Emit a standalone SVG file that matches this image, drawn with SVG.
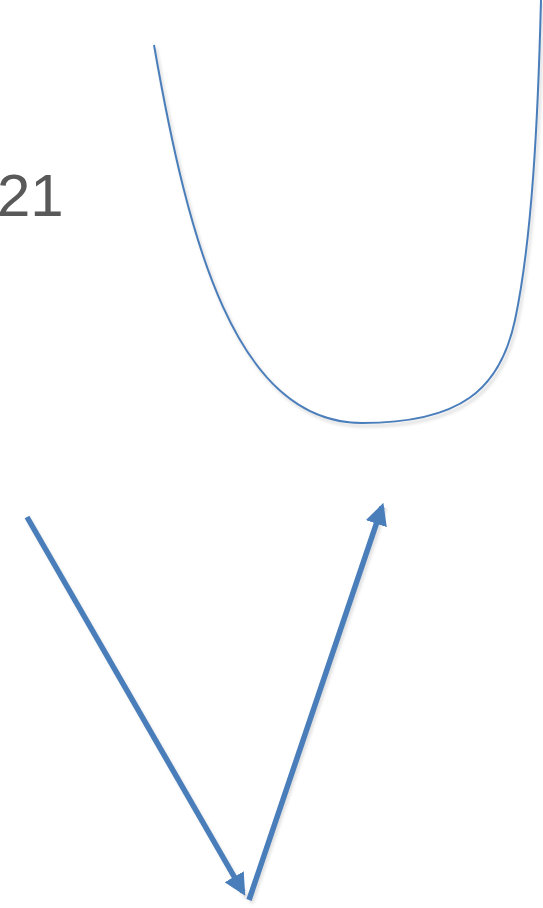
<svg xmlns="http://www.w3.org/2000/svg" width="543" height="908" viewBox="0 0 543 908">
<style>
.lbl{font-family:"Liberation Sans",Arial,sans-serif;font-size:60px;fill:#595959}
.curve{fill:none;stroke:#4a7ebb;stroke-width:2}
.shadow{fill:none;stroke:#000;stroke-opacity:0.12}
.arrow{fill:none;stroke:#4a7ebb;stroke-width:5.5}
</style>
<defs>
<marker id="ah" viewBox="0 0 10 10" refX="8" refY="5" markerWidth="4" markerHeight="4" orient="auto" markerUnits="strokeWidth">
<path d="M0,0 L10,5 L0,10 z" fill="#4a7ebb"/>
</marker>
<filter id="blur" x="-10%" y="-10%" width="120%" height="120%"><feGaussianBlur stdDeviation="1.5"/></filter>
</defs>
<rect width="543" height="908" fill="#fff"/>
<g id="label"><text class="lbl" x="-3" y="216">21</text></g>
<g id="curve">
<path class="shadow" stroke-width="3" filter="url(#blur)" transform="translate(2,3)" d="M154,45 C188,240 235,423 362,423 C460,423 500,390 515,320 C532,240 538,120 541,0"/>
<path class="curve" d="M154,45 C188,240 235,423 362,423 C460,423 500,390 515,320 C532,240 538,120 541,0"/>
</g>
<g id="connectors">
<path class="shadow" stroke-width="5" filter="url(#blur)" transform="translate(2,3)" d="M27,517 L245,895 M249,900 L383,505"/>
<path class="arrow" marker-end="url(#ah)" d="M27,517 L243,892"/>
<path class="arrow" marker-end="url(#ah)" d="M249,900 L382,507"/>
</g>
</svg>
